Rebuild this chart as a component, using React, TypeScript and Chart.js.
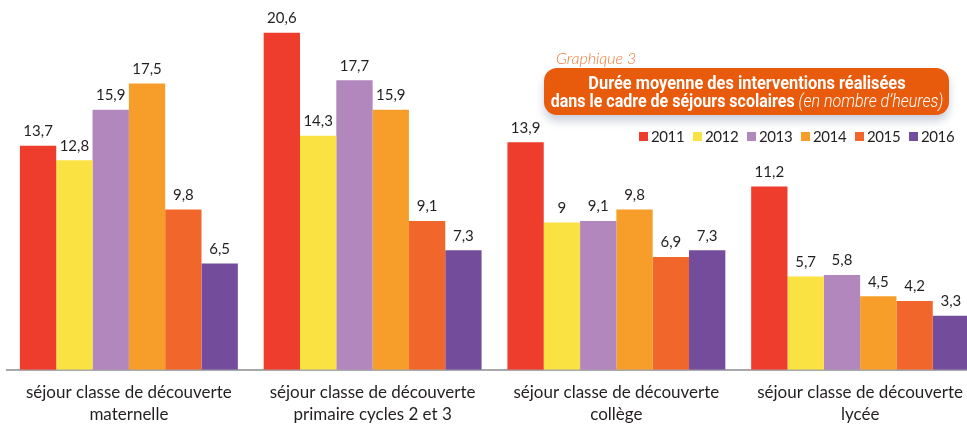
import React, { useEffect, useRef } from "react";
import { Chart, registerables } from "chart.js";
Chart.register(...registerables);

const categories: string[][] = [
  ["séjour classe de découverte", "maternelle"],
  ["séjour classe de découverte", "primaire cycles 2 et 3"],
  ["séjour classe de découverte", "collège"],
  ["séjour classe de découverte", "lycée"],
];
const years = ["2011", "2012", "2013", "2014", "2015", "2016"];
const v2011 = [13.7, 20.6, 13.9, 11.2];
const v2012 = [12.8, 14.3, 9, 5.7];
const v2013 = [15.9, 17.7, 9.1, 5.8];
const v2014 = [17.5, 15.9, 9.8, 4.5];
const v2015 = [9.8, 9.1, 6.9, 4.2];
const v2016 = [6.5, 7.3, 7.3, 3.3];
const seriesValues = [v2011, v2012, v2013, v2014, v2015, v2016];
const colors = ["#EE3D2C", "#FAE243", "#B287BD", "#F69E29", "#F1662B", "#744C9C"];

const titleLine1 = "Durée moyenne des interventions réalisées";
const titleLine2a = "dans le cadre de séjours scolaires";
const titleLine2b = " (en nombre d’heures)";
const graphLabel = "Graphique 3";

const fmt = (v: number) => String(v).replace(".", ",");

const valueLabels = {
  id: "valueLabels",
  afterDatasetsDraw(chart: any) {
    const ctx = chart.ctx;
    ctx.save();
    ctx.font = "15px Lato";
    ctx.fillStyle = "#231F20";
    ctx.textAlign = "center";
    ctx.textBaseline = "bottom";
    chart.data.datasets.forEach((ds: any, i: number) => {
      const meta = chart.getDatasetMeta(i);
      meta.data.forEach((bar: any, j: number) => {
        ctx.fillText(fmt(ds.data[j]), bar.x, bar.y - 7);
      });
    });
    ctx.restore();
  },
};

function ChartCanvas() {
  const ref = useRef<HTMLCanvasElement>(null);
  useEffect(() => {
    if (!ref.current) return;
    const chart = new Chart(ref.current, {
      type: "bar",
      data: {
        labels: categories,
        datasets: years.map((y, i) => ({
          label: y,
          data: seriesValues[i],
          backgroundColor: colors[i],
          borderWidth: 0,
          barPercentage: 1,
          categoryPercentage: 0.894,
        })),
      },
      options: {
        responsive: false,
        animation: false,
        layout: { padding: { left: 7, right: 8, top: 0, bottom: 0 } },
        plugins: { legend: { display: false }, tooltip: { enabled: false } },
        scales: {
          x: {
            grid: { display: false, drawTicks: false, tickLength: 0 },
            border: { display: true, color: "#A7A9AC", width: 2 },
            ticks: {
              color: "#231F20",
              font: { family: "Lato", size: 17, lineHeight: 1.3 },
              padding: 12,
              maxRotation: 0,
              autoSkip: false,
            },
          },
          y: { display: false, min: 0, max: 22.6 },
        },
      },
      plugins: [valueLabels],
    });
    return () => chart.destroy();
  }, []);
  return (
    <canvas
      ref={ref}
      width={990}
      height={438}
      style={{ position: "absolute", left: 0, top: 0, width: 990, height: 438 }}
    />
  );
}

export default function App() {
  return (
    <div
      style={{
        position: "fixed",
        left: 0,
        top: 0,
        width: 967,
        height: 425,
        overflow: "hidden",
        background: "#fff",
      }}
    >
      <ChartCanvas />
      <div
        style={{
          position: "absolute",
          left: 556,
          top: 48,
          fontFamily: "Lato",
          fontStyle: "italic",
          fontWeight: 300,
          fontSize: 16,
          color: "#F07A3A",
          lineHeight: "20px",
        }}
      >
        {graphLabel}
      </div>
      <div
        style={{
          position: "absolute",
          left: 544,
          top: 68,
          width: 405,
          height: 47,
          background: "#E95B0C",
          borderRadius: 13,
          boxShadow: "0 6px 9px rgba(110,120,160,0.35)",
          color: "#fff",
          fontFamily: "Roboto",
          textAlign: "center",
          overflow: "hidden",
        }}
      >
        <div
          style={{
            position: "absolute",
            left: "50%",
            top: 6,
            whiteSpace: "nowrap",
            transform: "translateX(-50%) scaleX(0.91)",
            fontWeight: 700,
            fontSize: 18,
            lineHeight: "18px",
          }}
        >
          {titleLine1}
        </div>
        <div
          style={{
            position: "absolute",
            left: "50%",
            top: 24,
            whiteSpace: "nowrap",
            transform: "translateX(-50%) scaleX(0.89)",
            fontSize: 18,
            lineHeight: "18px",
          }}
        >
          <span style={{ fontWeight: 700 }}>{titleLine2a}</span>
          <span style={{ fontStyle: "italic", fontWeight: 300 }}>{titleLine2b}</span>
        </div>
      </div>
      <div
        style={{
          position: "absolute",
          left: 639,
          top: 127,
          display: "flex",
          fontFamily: "Lato",
          fontSize: 15,
          letterSpacing: -0.4,
          color: "#231F20",
          lineHeight: "18px",
        }}
      >
        {years.map((y, i) => (
          <div key={y} style={{ display: "flex", alignItems: "center", width: 54 }}>
            <span
              style={{
                display: "inline-block",
                width: 9,
                height: 9,
                background: colors[i],
                marginRight: 3,
              }}
            />
            <span>{y}</span>
          </div>
        ))}
      </div>
    </div>
  );
}
